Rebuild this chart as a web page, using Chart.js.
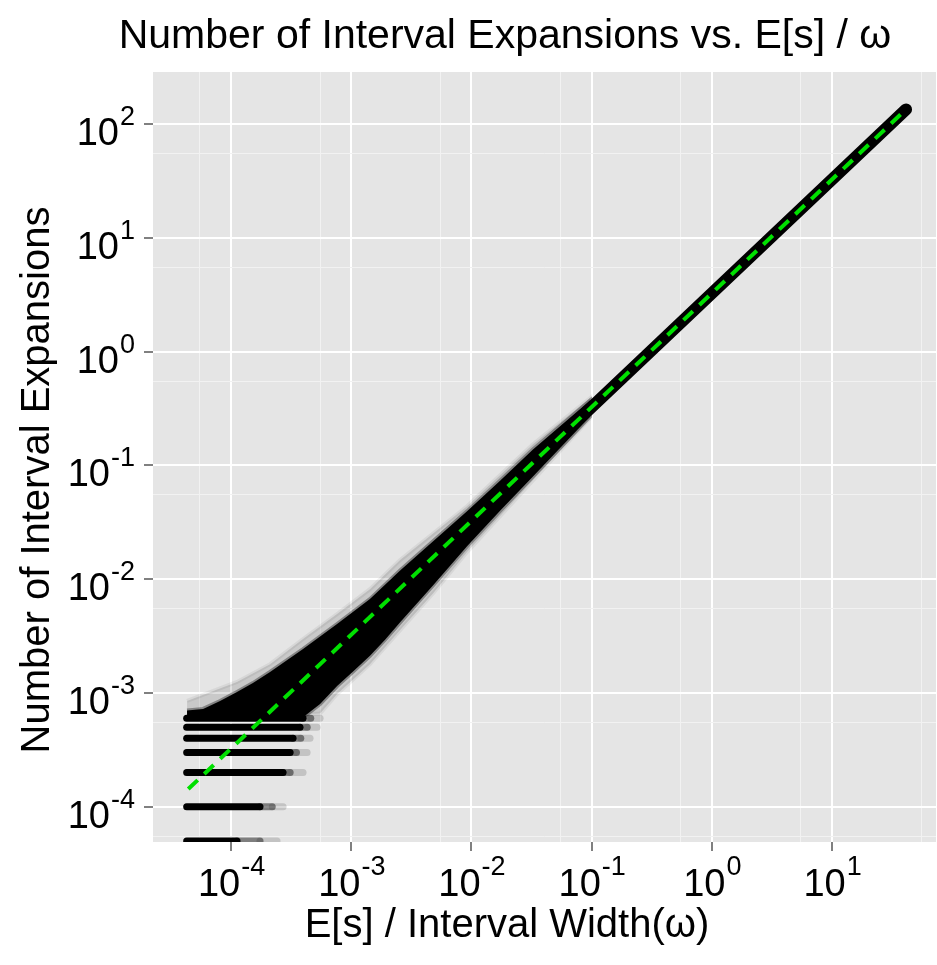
<!DOCTYPE html>
<html>
<head>
<meta charset="utf-8">
<script src="https://cdn.jsdelivr.net/npm/chart.js@4.4.0/dist/chart.umd.min.js"></script>
<style>
  body { margin: 0; background: #fff; }
  #wrap { width: 937px; height: 965px; }
</style>
</head>
<body>
<div id="wrap"><canvas id="chart" width="937" height="965"></canvas></div>
<script>
// axis ticks (decades) and their exponent labels
const xTicks = [1e-4, 1e-3, 1e-2, 1e-1, 1, 10];
const xExponents = ['-4', '-3', '-2', '-1', '0', '1'];
const yTicks = [1e-4, 1e-3, 1e-2, 1e-1, 1, 10, 100];
const yExponents = ['-4', '-3', '-2', '-1', '0', '1', '2'];
// faint grid lines half way between decades (linear midpoints)
const xMinor = [5.5e-5, 5.5e-4, 5.5e-3, 5.5e-2, 0.55, 5.5, 55];
const yMinor = [5.5e-5, 5.5e-4, 5.5e-3, 5.5e-2, 0.55, 5.5, 55];

// dense core of the point cloud: upper and lower edges
const coreUpperX = [4.3e-5, 5.85e-5, 8.1e-5, 1.12e-4, 1.52e-4, 2.11e-4, 3.97e-4, 7.62e-4, 1.43e-3, 2.55e-3, 9.19e-3, 1.73e-2, 3.25e-2, 9.7e-2];
const coreUpperY = [7.0e-4, 7.24e-4, 8.5e-4, 1.02e-3, 1.22e-3, 1.53e-3, 2.43e-3, 4.03e-3, 6.68e-3, 1.19e-2, 3.94e-2, 7.31e-2, 0.138, 0.371];
const coreLowerX = [4.3e-5, 3.97e-4, 5.5e-4, 7.62e-4, 1.04e-3, 1.43e-3, 1.91e-3, 2.55e-3, 3.53e-3, 4.8e-3, 9.19e-3, 1.73e-2, 3.25e-2, 9.7e-2];
const coreLowerY = [6.1e-4, 6.1e-4, 8.0e-4, 1.15e-3, 1.55e-3, 2.12e-3, 2.94e-3, 4.17e-3, 6.15e-3, 8.85e-3, 1.95e-2, 3.99e-2, 7.98e-2, 0.269];
// narrow upper part of the cloud, following the trend
const coreTrendX = [3.25e-2, 41.3];
const coreTrendY = [0.1056, 134];

// sparse grey halo around the core
const haloUpperX = [4.3e-5, 1.12e-4, 2.11e-4, 3.97e-4, 7.62e-4, 1.43e-3, 2.55e-3, 9.19e-3, 3.25e-2, 9.7e-2];
const haloUpperY = [8.5e-4, 1.25e-3, 1.79e-3, 2.98e-3, 4.93e-3, 8.17e-3, 1.47e-2, 4.37e-2, 0.153, 0.39];
const haloLowerX = [4.3e-5, 4.0e-4, 5.5e-4, 7.62e-4, 1.43e-3, 2.55e-3, 4.8e-3, 9.19e-3, 3.25e-2, 9.7e-2];
const haloLowerY = [6.5e-4, 6.5e-4, 6.6e-4, 9.8e-4, 1.79e-3, 3.57e-3, 7.53e-3, 1.73e-2, 7.38e-2, 0.26];

// discrete rows of points at small counts
const bandLevels = [5e-5, 1e-4, 2e-4, 3e-4, 4e-4, 5e-4, 6e-4];
const bandStart = 4.27e-5;
const bandDenseEnd = [1.12e-4, 1.74e-4, 2.71e-4, 3.1e-4, 3.28e-4, 3.75e-4, 3.97e-4];
const bandMidEnd = [1.74e-4, 2.2e-4, 3.1e-4, 3.5e-4, 3.8e-4, 4.3e-4, 4.6e-4];
const bandFadeEnd = [2.41e-4, 2.71e-4, 3.97e-4, 4.29e-4, 4.54e-4, 5.19e-4, 5.5e-4];

// fitted line end points
const fitX = [4.4e-5, 41.5];
const fitY = [1.43e-4, 135];

const zip = (xs, ys) => xs.map((x, i) => ({ x, y: ys[i] }));
const polygon = (ux, uy, lx, ly) => zip(ux, uy).concat(zip(lx, ly).reverse());

const datasets = [];
datasets.push({
  data: zip(fitX, fitY),
  borderColor: '#00E000',
  borderWidth: 4,
  borderDash: [13, 9],
  pointRadius: 0,
  clip: 0,
});
bandLevels.forEach((lvl, i) => {
  const seg = (x0, x1, color) => ({
    data: [{ x: x0, y: lvl }, { x: x1, y: lvl }],
    borderColor: color,
    borderWidth: 7,
    borderCapStyle: 'round',
    pointRadius: 0,
    clip: 0,
  });
  datasets.push(seg(bandStart, bandDenseEnd[i], '#000'));
  datasets.push(seg(bandDenseEnd[i], bandMidEnd[i], 'rgba(0,0,0,0.45)'));
  datasets.push(seg(bandMidEnd[i], bandFadeEnd[i], 'rgba(0,0,0,0.15)'));
});
datasets.push({
  data: zip(coreTrendX, coreTrendY),
  borderColor: '#000',
  borderWidth: 12,
  borderCapStyle: 'round',
  pointRadius: 0,
  clip: 0,
});
datasets.push({
  data: polygon(coreUpperX, coreUpperY, coreLowerX, coreLowerY),
  fill: 'shape',
  backgroundColor: '#000',
  borderColor: 'rgba(0,0,0,0.35)',
  borderWidth: 4,
  pointRadius: 0,
  clip: 0,
});
datasets.push({
  data: polygon(haloUpperX, haloUpperY, haloLowerX, haloLowerY),
  fill: 'shape',
  backgroundColor: 'rgba(0,0,0,0.12)',
  borderColor: 'rgba(0,0,0,0.06)',
  borderWidth: 4,
  pointRadius: 0,
  clip: 0,
});

const FONT = '"Liberation Sans", Arial, Helvetica, sans-serif';

const gridOpts = {
  color: c => (c.tick && c.tick.major ? '#FFFFFF' : '#F2F2F2'),
  lineWidth: c => (c.tick && c.tick.major ? 2 : 1),
  tickColor: c => (c.tick && c.tick.major ? '#808080' : 'rgba(0,0,0,0)'),
  tickWidth: 2,
  tickLength: 9,
  drawTicks: true,
};

const makeTicks = (major, minor) => scale => {
  scale.ticks = major.map(v => ({ value: v, major: true }))
    .concat(minor.filter(v => v >= scale.min && v <= scale.max).map(v => ({ value: v, major: false })));
};

const panelBg = {
  id: 'panelBg',
  beforeDraw(chart) {
    const { ctx, chartArea: a } = chart;
    ctx.save();
    ctx.fillStyle = '#E5E5E5';
    ctx.fillRect(a.left, a.top, a.right - a.left, a.bottom - a.top);
    ctx.restore();
  },
};

const textPlugin = {
  id: 'texts',
  afterDraw(chart) {
    const { ctx, scales: { x, y } } = chart;
    ctx.save();
    ctx.fillStyle = '#000';
    ctx.textBaseline = 'alphabetic';
    const baseFont = '38px ' + FONT;
    const expFont = '27px ' + FONT;

    xTicks.forEach((v, i) => {
      const px = x.getPixelForValue(v);
      ctx.font = baseFont;
      const w1 = ctx.measureText('10').width;
      ctx.font = expFont;
      const w2 = ctx.measureText(xExponents[i]).width;
      const left = px - (w1 + w2) / 2;
      ctx.textAlign = 'left';
      ctx.font = baseFont;
      ctx.fillText('10', left, 896);
      ctx.font = expFont;
      ctx.fillText(xExponents[i], left + w1 + 1, 875);
    });

    yTicks.forEach((v, i) => {
      const py = y.getPixelForValue(v);
      ctx.textAlign = 'right';
      ctx.font = expFont;
      const w2 = ctx.measureText(yExponents[i]).width;
      ctx.fillText(yExponents[i], 135, py + 1);
      ctx.font = baseFont;
      ctx.fillText('10', 135 - w2 - 1, py + 21);
    });

    ctx.font = '41px ' + FONT;
    ctx.textAlign = 'center';
    ctx.fillText('Number of Interval Expansions vs. E[s] / \u03C9', 505, 48);
    ctx.font = '40px ' + FONT;
    ctx.fillText('E[s] / Interval Width(\u03C9)', 507, 937);

    ctx.translate(49, 480);
    ctx.rotate(-Math.PI / 2);
    ctx.fillText('Number of Interval Expansions', 0, 0);
    ctx.restore();
  },
};

new Chart(document.getElementById('chart'), {
  type: 'line',
  data: { datasets },
  options: {
    responsive: false,
    animation: false,
    layout: { padding: { top: 72, right: 1, bottom: 0, left: 0 } },
    plugins: { legend: { display: false }, tooltip: { enabled: false } },
    elements: { line: { tension: 0 } },
    scales: {
      x: {
        type: 'logarithmic',
        min: 2.24e-5,
        max: 73.3,
        afterBuildTicks: makeTicks(xTicks, xMinor),
        afterFit: s => { s.height = 123; },
        ticks: { display: false, autoSkip: false },
        grid: gridOpts,
        border: { display: false },
      },
      y: {
        type: 'logarithmic',
        min: 4.9e-5,
        max: 286,
        afterBuildTicks: makeTicks(yTicks, yMinor),
        afterFit: s => { s.width = 153; },
        ticks: { display: false, autoSkip: false },
        grid: gridOpts,
        border: { display: false },
      },
    },
  },
  plugins: [panelBg, textPlugin],
});
</script>
</body>
</html>
